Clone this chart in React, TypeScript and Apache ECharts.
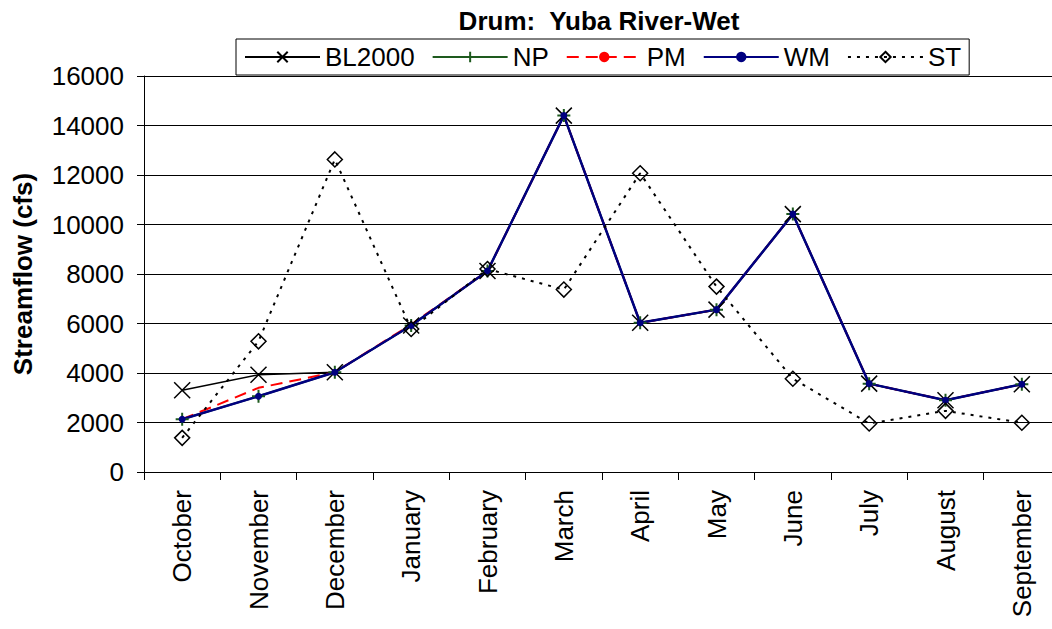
import React, { useEffect, useRef } from 'react';
import * as echarts from 'echarts';

const categories = ['October', 'November', 'December', 'January', 'February', 'March', 'April', 'May', 'June', 'July', 'August', 'September'];
const bl2000 = [3300, 3930, 4030, 5920, 8120, 14400, 6030, 6560, 10420, 3570, 2900, 3545];
const np = [2130, 3060, 4030, 5920, 8120, 14400, 6030, 6560, 10420, 3570, 2900, 3545];
const pm = [2130, 3400, 4030, 5960, 8120, 14400, 6030, 6560, 10420, 3570, 2900, 3545];
const wm = [2130, 3060, 4030, 5920, 8120, 14400, 6030, 6560, 10420, 3570, 2900, 3545];
const st = [1380, 5280, 12630, 5780, 8200, 7370, 12070, 7490, 3770, 1960, 2470, 1990];
const yTicks = { min: 0, max: 16000, interval: 2000 };
const titleText = 'Drum:  Yuba River-Wet';
const yName = 'Streamflow (cfs)';

export default function App() {
  const ref = useRef<HTMLDivElement>(null);
  useEffect(() => {
    const chart = echarts.init(ref.current as HTMLDivElement, null, { renderer: 'svg' });
    const font = '"Liberation Sans", Arial, sans-serif';
    chart.setOption({
      animation: false,
      backgroundColor: '#fff',
      textStyle: { fontFamily: font, color: '#000' },
      grid: { left: 144, top: 76, width: 916, height: 396, containLabel: false },
      graphic: [
        {
          type: 'text',
          x: 599,
          y: 21,
          z: 10,
          style: {
            text: titleText,
            font: 'bold 26px "Liberation Sans", Arial, sans-serif',
            fill: '#000',
            align: 'center',
            verticalAlign: 'middle',
          },
        },
      ],
      legend: {
        left: 236,
        top: 39,
        orient: 'horizontal',
        itemWidth: 75,
        itemHeight: 13,
        itemGap: 17,
        padding: [5, 8],
        borderColor: '#000',
        borderWidth: 1,
        backgroundColor: '#fff',
        textStyle: { fontSize: 26, color: '#000', fontFamily: font },
        data: ['BL2000', 'NP', 'PM', 'WM', 'ST'],
      },
      xAxis: {
        type: 'category',
        data: categories,
        boundaryGap: true,
        axisLine: { show: true, lineStyle: { color: '#000', width: 1 } },
        axisTick: { show: true, length: 8, inside: false, alignWithLabel: false, lineStyle: { color: '#000' } },
        axisLabel: { rotate: 90, fontSize: 26, color: '#000', margin: 18, interval: 0, fontFamily: font },
        splitLine: { show: false },
      },
      yAxis: {
        type: 'value',
        min: yTicks.min,
        max: yTicks.max,
        interval: yTicks.interval,
        axisLine: { show: true, lineStyle: { color: '#000', width: 1 } },
        axisTick: { show: true, length: 7, lineStyle: { color: '#000' } },
        axisLabel: { fontSize: 26, color: '#000', margin: 20, fontFamily: font, formatter: (v: number) => String(v) },
        splitLine: { show: true, lineStyle: { color: '#000', width: 1 } },
        name: yName,
        nameLocation: 'middle',
        nameRotate: 90,
        nameGap: 108,
        nameTextStyle: { fontSize: 26, fontWeight: 'bold', color: '#000', fontFamily: font },
      },
      series: [
        {
          name: 'BL2000',
          type: 'line',
          data: bl2000,
          symbol: 'path://M0,0L10,10M10,0L0,10',
          symbolSize: 16,
          lineStyle: { color: '#000', width: 1.5 },
          itemStyle: { color: '#000', borderColor: '#000', borderWidth: 1.5 },
        },
        {
          name: 'NP',
          type: 'line',
          data: np,
          symbol: 'path://M5,0L5,10M0,5L10,5',
          symbolSize: 13,
          lineStyle: { color: '#1e5a1e', width: 2 },
          itemStyle: { color: '#1e5a1e', borderColor: '#1e5a1e', borderWidth: 2 },
        },
        {
          name: 'PM',
          type: 'line',
          data: pm,
          symbol: 'none',
          lineStyle: { color: '#ff0000', width: 2, type: [12, 7] },
          itemStyle: { color: '#ff0000' },
        },
        {
          name: 'WM',
          type: 'line',
          data: wm,
          symbol: 'circle',
          symbolSize: 7,
          lineStyle: { color: '#000080', width: 2.5 },
          itemStyle: { color: '#000080', borderWidth: 0 },
        },
        {
          name: 'ST',
          type: 'line',
          data: st,
          symbol: 'diamond',
          symbolSize: 15,
          lineStyle: { color: '#000', width: 2, type: [3, 6] },
          itemStyle: { color: 'rgba(0,0,0,0)', borderColor: '#000', borderWidth: 1.5 },
        },
      ],
    });
    return () => chart.dispose();
  }, []);
  return (
    <div style={{ position: 'absolute', left: 0, top: 0, width: 1052, height: 629, overflow: 'hidden', background: '#fff' }}>
      <div ref={ref} style={{ width: 1072, height: 629 }} />
    </div>
  );
}
